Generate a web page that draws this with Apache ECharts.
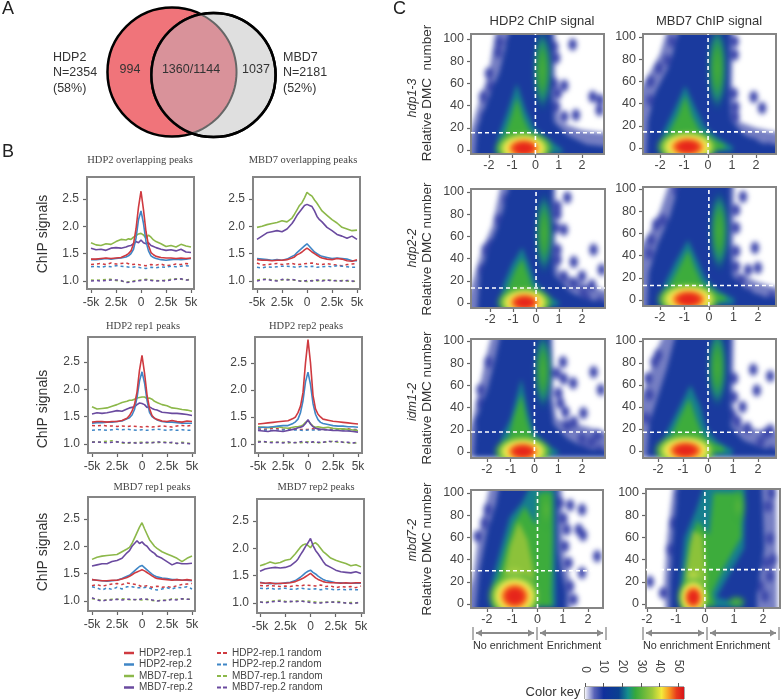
<!DOCTYPE html>
<html><head><meta charset="utf-8">
<style>html,body{margin:0;padding:0;background:#fff}
#wrap{position:absolute;left:0;top:0;width:781px;height:700px}
#h{position:absolute;left:0;top:0;width:781px;height:700px;filter:blur(2.6px)}
#c{position:absolute;left:0;top:0;width:781px;height:700px;filter:blur(.4px)}</style>
<script src="https://cdn.jsdelivr.net/npm/echarts@6/dist/echarts.min.js"></script>
</head><body><div id="wrap"><div id="h"></div></div><div id="c"></div>
<script>
// ---------- tick labels / names
const lineTickVals=[-5,-2.5,0,2.5,5];
const lineTickText=['-5k','2.5k','0','2.5k','5k'];
const lineYTicks=[1,1.5,2,2.5];
const heatXTicks=[-2,-1,0,1,2];
const heatYTicks=[0,20,40,60,80,100];
const keyTicks=[0,10,20,30,40,50];
const solidNames=['HDP2-rep.1','HDP2-rep.2','MBD7-rep.1','MBD7-rep.2'];
const dashNames=['HDP2-rep.1 random','HDP2-rep.2 random','MBD7-rep.1 random','MBD7-rep.2 random'];
const lineColors=['#cf3a40','#3f86c6','#8cb84a','#6a4a9f'];
// ---------- Venn
const vennNames=['HDP2','MBD7'];
const vennN=[2354,2181];
const vennPct=['(58%)','(52%)'];
const vennCounts=['994','1360/1144','1037'];
// ---------- x of profile samples (kb)
const xSolid=[-5,-4.5,-4,-3.5,-3,-2.5,-2,-1.5,-1.25,-1,-.75,-.5,-.25,0,.25,.5,.75,1,1.25,1.5,2,2.5,3,3.5,4,4.5,5];
const xDash=[-5,-4.5,-4,-3.5,-3,-2.5,-2,-1.5,-1,-.5,0,.5,1,1.5,2,2.5,3,3.5,4,4.5,5];
// ---------- profile values, hundredths of signal
const b1s1=[140,140,141,142,141,142,143,147,150,155,168,195,235,264,230,190,165,152,148,145,143,142,142,141,142,141,142];
const b1s2=[139,139,140,141,140,141,142,144,146,150,158,178,212,228,205,172,155,146,143,141,139,138,139,140,139,140,141];
const b1s3=[170,166,165,168,167,172,176,175,177,176,180,183,186,187,184,178,184,180,175,172,168,163,165,162,167,164,162];
const b1s4=[160,157,158,156,160,161,160,162,164,165,168,172,170,175,170,168,170,165,163,161,158,156,157,155,158,153,152];
const b1d1=[130,131,132,130,133,131,132,133,130,131,129,128,130,129,131,128,129,131,130,132,131];
const b1d2=[126,127,125,127,126,128,127,126,125,126,124,123,125,124,126,125,127,126,127,128,127];
const b1d3=[102,101,102,103,103,101,100,98,99,101,102,103,102,101,100,102,103,104,103,102,103];
const b1d4=[100,101,100,101,102,102,101,97,98,100,101,102,101,100,101,100,102,103,104,102,102];
const b2s1=[139,138,138,137,138,138,139,142,144,148,150,153,157,160,157,153,150,147,144,142,140,139,141,140,137,136,139];
const b2s2=[141,140,139,138,139,138,140,145,147,152,156,160,164,168,163,158,153,150,147,145,143,141,142,141,140,137,137];
const b2s3=[198,200,203,205,207,210,208,215,222,230,238,243,252,262,258,255,248,242,235,228,220,212,206,198,195,192,193];
const b2s4=[176,182,188,190,192,190,195,205,212,220,226,232,238,240,238,236,228,218,212,208,198,192,185,182,178,182,176];
const b2d1=[133,129,130,131,132,130,131,132,130,131,132,133,131,130,132,130,129,128,130,131,132];
const b2d2=[125,124,126,125,126,127,127,126,125,127,126,127,125,126,127,126,128,127,126,125,125];
const b2d3=[102,103,104,102,101,102,103,102,101,100,99,101,100,102,101,102,100,101,100,99,100];
const b2d4=[100,102,103,101,100,103,102,103,101,99,101,100,102,100,102,100,101,100,101,100,99];
const b3s1=[140,141,141,140,141,141,143,147,152,160,172,195,235,262,230,190,165,152,147,145,142,141,143,141,140,142,141];
const b3s2=[138,139,139,140,140,141,142,146,148,153,163,185,215,232,212,180,158,150,147,144,141,140,140,139,138,138,138];
const b3s3=[168,164,165,166,169,172,176,178,180,180,182,184,185,186,186,183,184,182,178,176,172,170,166,165,163,162,160];
const b3s4=[155,157,156,157,159,161,160,164,166,167,168,172,175,174,172,167,168,165,163,162,158,157,156,156,155,154,152];
const b3d1=[134,133,134,133,133,132,133,132,133,132,131,132,131,132,133,132,131,133,134,133,134];
const b3d2=[125,126,126,125,126,127,126,127,126,125,126,125,126,127,126,125,126,125,126,125,125];
const b3d3=[104,103,104,105,106,104,102,101,102,103,103,102,103,102,104,103,102,101,103,102,100];
const b3d4=[103,104,103,102,103,104,103,102,103,101,102,103,102,104,103,102,103,101,102,101,100];
const b4s1=[137,138,139,140,141,142,143,147,150,158,170,195,250,293,250,190,165,155,150,146,144,142,141,140,139,138,137];
const b4s2=[130,131,131,132,133,134,134,138,141,146,158,180,215,233,210,175,155,145,140,138,136,134,133,133,132,132,131];
const b4s3=[132,131,130,131,132,130,129,131,132,132,133,135,140,143,138,133,131,132,131,130,131,129,128,128,127,126,125];
const b4s4=[125,124,123,125,124,123,125,127,128,130,131,133,138,145,137,132,129,128,127,127,126,125,125,124,124,123,122];
const b4d1=[128,127,128,129,128,127,128,128,127,127,127,128,127,127,127,128,128,127,128,127,127];
const b4d2=[126,125,126,125,126,126,127,126,126,125,126,126,126,127,126,126,127,126,125,126,126];
const b4d3=[105,104,103,104,103,103,102,103,102,103,104,103,102,103,104,105,103,103,102,102,102];
const b4d4=[103,105,103,102,103,102,104,102,103,105,102,104,103,103,105,104,105,103,103,102,103];
const b5s1=[139,138,137,137,138,138,140,143,145,148,151,153,155,157,155,152,149,146,143,141,140,139,138,139,138,139,138];
const b5s2=[139,138,137,136,137,138,141,145,147,151,155,159,163,165,161,157,153,149,146,144,142,141,139,139,138,138,137];
const b5s3=[176,180,182,183,184,185,190,195,198,205,215,225,235,243,232,222,212,206,200,196,190,186,182,178,172,178,182];
const b5s4=[164,166,168,168,172,174,178,188,192,200,205,210,205,208,203,200,194,190,187,182,178,172,166,170,168,168,169];
const b5d1=[128,130,127,129,131,132,130,133,131,130,126,128,125,127,125,126,125,128,130,131,132];
const b5d2=[126,124,120,124,121,125,122,126,126,124,124,125,122,120,122,124,122,125,124,126,122];
const b5d3=[104,103,101,102,103,103,104,103,102,103,102,103,101,100,102,101,104,103,104,103,103];
const b5d4=[106,102,100,102,102,103,102,103,103,102,104,103,102,100,101,101,103,102,104,103,103];
const b6s1=[137,136,137,135,136,136,137,139,141,143,145,148,151,154,150,146,143,141,139,138,137,137,136,137,136,137,137];
const b6s2=[138,136,135,136,135,137,138,141,144,147,151,155,158,160,156,153,149,146,143,141,139,137,137,136,136,136,136];
const b6s3=[168,171,175,172,174,178,180,190,196,202,206,208,205,201,208,210,206,200,194,190,182,178,175,172,168,170,166];
const b6s4=[158,162,164,165,164,165,168,175,180,188,195,203,210,218,205,196,190,183,176,170,165,160,157,156,155,157,154];
const b6d1=[132,131,132,131,130,131,130,132,131,133,132,131,133,130,131,128,130,129,130,128,131];
const b6d2=[127,126,127,125,126,127,125,125,127,126,125,126,124,126,125,124,125,124,125,124,124];
const b6d3=[102,101,103,104,105,103,102,104,103,104,103,102,101,102,101,103,102,100,101,100,102];
const b6d4=[102,100,102,103,103,102,103,102,104,102,101,100,100,101,102,101,101,100,99,100,101];
// ---------- density panels: contours [signal, DMC], peaks [signal, DMC, spreadX, spreadY], sparse points [signal, DMC]
const h1Halo=[[-2.77,-4],[-2.75,20],[-2.4,45],[-2,70],[-1.65,104.5],[.85,104.5],[.85,50],[1.05,25],[2,18],[2.95,14],[2.95,-4]];
const h1Body=[[-2.65,-4],[-2.5,20],[-2.05,45],[-1.55,70],[-1,104.5],[.72,104.5],[.7,50],[.8,25],[1.4,13],[2.2,5],[2.95,2],[2.95,-4]];
const h1Teal=[[-1.75,-2],[-1.55,15],[-1.2,35],[-.8,60],[-.4,35],[-.05,20],[.55,10],[1.2,0],[1.1,-3],[-1.75,-3]];
const h1Green=[[-1.45,3],[-1.3,15],[-1.05,30],[-.8,47],[-.5,28],[-.2,15],[.25,6],[.65,1],[.3,-2],[-1.2,-2]];
const h1Peaks=[[.3,72,.46,40],[-.5,1.5,1.3,16]];
const h1Dots=[[.81,93],[.89,83],[1.6,95],[1.24,58],[1.24,30],[1.74,31.5],[2.46,48],[2.79,45],[2.76,36],[.89,39],[.96,51],[.81,60],[-1.54,97],[-1.11,97],[-1.6,88],[-2,69],[-2.25,48],[-2.2,30],[-1.9,57]];
const h2Halo=[[-2.71,-6],[-2.71,40],[-2.5,65],[-2,85],[-1.6,102.7],[1.05,102.7],[1,50],[1.1,25],[2,18],[2.83,12],[2.83,-6]];
const h2Body=[[-2.6,-6],[-2.5,25],[-2.2,50],[-1.6,75],[-1.1,102.7],[.92,102.7],[.88,50],[.95,25],[1.5,12],[2.3,4],[2.83,2],[2.83,-6]];
const h2Teal=[[-2.05,-3],[-1.85,15],[-1.4,35],[-.95,56],[-.5,35],[-.15,20],[.35,10],[1.05,1],[1,-3]];
const h2Green=[[-1.8,0],[-1.6,15],[-1.25,30],[-.95,47],[-.65,28],[-.3,14],[.15,8],[.7,3],[.7,-1],[-1.5,-3]];
const h2Peaks=[[.38,72,.46,42],[-.85,1,1.35,16]];
const h2Dots=[[1.11,96],[1.11,84],[1.14,37],[1.14,28],[1.9,46],[2.25,36],[2.53,0],[1.9,4],[1.35,7],[1.07,49],[-2.4,60],[-2.05,72],[-1.7,79],[-1.5,96],[-2.4,43]];
const h3Halo=[[-2.83,-5],[-2.75,20],[-2.4,45],[-1.9,70],[-1.45,102.7],[.85,102.7],[.85,50],[1,28],[2,18],[3,8],[3,-5]];
const h3Body=[[-2.6,-5],[-2.45,25],[-2.05,50],[-1.55,75],[-1.05,102.7],[.72,102.7],[.7,50],[.8,25],[1.5,10],[2.2,3],[3,0],[3,-5]];
const h3Teal=[[-1.65,-3],[-1.4,18],[-1.05,35],[-.6,50],[-.3,35],[-.05,20],[.45,8],[1.05,0],[.9,-3]];
const h3Green=[[-1.35,2],[-1.2,15],[-.9,30],[-.6,40],[-.35,26],[-.15,14],[.25,5],[.65,1],[.3,-2],[-1.2,-2]];
const h3Peaks=[[.35,63,.44,40],[-.5,.5,1.25,15]];
const h3Dots=[[1.36,95],[.93,87],[.93,80],[1.21,66],[.86,68],[1.64,37],[2.5,48],[2.86,30],[2,24],[1.21,24],[1.64,18],[2.43,16],[.93,48],[.93,39],[2.79,1],[2.2,4],[2.05,10],[-2.2,48],[-2,52],[-2.36,30],[-1.29,93],[-1.64,75]];
const h4Halo=[[-2.69,-6],[-2.69,35],[-2.45,60],[-2,80],[-1.5,101.8],[1.05,101.8],[1,50],[1.1,25],[2,16],[2.74,8],[2.74,-6]];
const h4Body=[[-2.55,-6],[-2.45,25],[-2.1,50],[-1.6,75],[-1.1,101.8],[.88,101.8],[.86,50],[.95,22],[1.5,10],[2.2,3],[2.74,1],[2.74,-6]];
const h4Teal=[[-2.05,-4],[-1.8,15],[-1.35,35],[-.85,54],[-.45,35],[-.15,20],[.35,9],[1.05,1],[1,-4]];
const h4Green=[[-1.75,-1],[-1.55,15],[-1.2,30],[-.85,45],[-.55,28],[-.25,14],[.15,8],[.7,3],[.7,-1],[-1.5,-3]];
const h4Peaks=[[.42,62,.44,40],[-.83,.6,1.35,16]];
const h4Dots=[[1.39,93],[1.11,81],[1.11,65],[1.11,44],[1.88,47],[1.6,27],[2,29],[1.11,30],[1.32,18],[2.57,3],[2.08,0],[1.6,6],[-2.15,68],[-2.43,42],[-1.88,72],[-2.36,54],[-1.32,99]];
const h5Halo=[[-2.67,-5],[-2.6,30],[-2.3,60],[-2.05,85],[-1.7,101.8],[.75,101.8],[.8,50],[.95,30],[1.8,25],[2.97,15],[2.97,-5]];
const h5Body=[[-2.55,-5],[-2.45,30],[-2,55],[-1.7,80],[-1.35,101.8],[.68,101.8],[.65,50],[.8,25],[1.4,12],[2.2,3],[2.97,0],[2.97,-5]];
const h5Teal=[[-1.55,-3],[-1.35,15],[-1,30],[-.55,66],[-.25,35],[0,18],[.45,8],[1.05,0],[.9,-3]];
const h5Green=[[-1.25,2],[-1.05,15],[-.9,30],[-.55,52],[-.3,28],[-.1,14],[.25,5],[.65,1],[.3,-2],[-1.2,-2]];
const h5Peaks=[[.36,73,.42,38],[-.49,.5,1.25,15]];
const h5Dots=[[1.2,81],[1.23,66],[1.63,62],[1.01,53],[.94,71],[2.49,72],[2.8,56],[1.3,36],[2.06,35],[1.66,27],[2.66,15],[2,12],[1.37,24],[1.09,44],[2.73,1.5],[2.1,2],[2.4,9],[-1.94,81],[-2.27,56],[-2.27,44],[-2.34,27]];
const h6Halo=[[-2.6,-6],[-2.6,30],[-2.4,65],[-2.1,90],[-1.6,101.8],[1.05,101.8],[1,50],[1.1,25],[1.9,20],[2.72,15],[2.72,-6]];
const h6Body=[[-2.45,-6],[-2.35,25],[-2,50],[-1.65,75],[-1.2,101.8],[.9,101.8],[.88,50],[.92,22],[1.4,10],[2.1,3],[2.72,0],[2.72,-6]];
const h6Teal=[[-2,-4],[-1.7,15],[-1.25,35],[-.7,60],[-.3,40],[-.1,22],[.35,9],[1,1],[.95,-4]];
const h6Green=[[-1.65,-1],[-1.45,15],[-1.15,30],[-.75,48],[-.45,28],[-.2,14],[.15,8],[.65,3],[.65,-1],[-1.4,-3]];
const h6Peaks=[[.37,76,.44,40],[-.9,.5,1.3,16]];
const h6Dots=[[1.04,66],[1.81,74],[1.95,55],[2.49,68],[1.04,49],[1.38,40],[.97,33],[1.58,21],[2.32,16],[2.53,0],[1.78,2],[1.18,27],[2.5,19],[2.1,8],[-2.14,81],[-2.4,66],[-2,87],[-2.34,51],[-2.47,30]];
const h7Halo=[[-2.63,-4],[-2.55,25],[-2.35,60],[-2.05,90],[-1.8,102.7],[.95,102.7],[1,50],[1.3,20],[1.3,-4]];
const h7Body=[[-2.5,-4],[-2.3,30],[-2,65],[-1.65,90],[-1.45,102.7],[.78,102.7],[.82,50],[.95,30],[1.15,8],[1.1,-4]];
const h7Teal=[[-1.85,-3],[-1.8,20],[-1.45,50],[-1.1,78],[-.6,92],[-.1,102.7],[.68,102.7],[.72,40],[.72,-3]];
const h7Green=[[-1.65,-2],[-1.6,20],[-1.25,50],[-.95,72],[-.5,88],[-.05,70],[.02,100],[.58,100],[.6,60],[.55,10],[.58,-2]];
const h7Lime=[[-1.45,3],[-1.35,25],[-1.1,52],[-.75,74],[-.4,58],[-.15,30],[-.1,10],[-.15,-1]];
const h7Peaks=[[.35,85,.3,22],[-.9,18,.6,19],[-.9,7,1.1,22]];
const h7Dots=[[1.03,77],[1.29,89],[1.76,85],[1.63,67],[1.16,67],[1.8,62],[2.36,43],[1.76,28],[1.23,37],[1.29,16],[1.43,4],[1.09,52],[.89,91],[-2.37,61],[-1.97,85],[-2.1,73]];
const h8Halo=[[-1.35,-4],[-1.4,20],[-1.3,60],[-1.05,103.6],[2.45,103.6],[2.5,-4]];
const h8Body=[[-1.2,-4],[-1.2,20],[-1.1,60],[-.9,103.6],[1.95,103.6],[2.05,50],[1.8,10],[1.8,-4]];
const h8Teal=[[-.85,-3],[-.85,20],[-.7,60],[-.3,85],[.1,103.6],[1.4,103.6],[1.35,50],[.8,25],[.4,6],[1.3,0],[1.3,-3]];
const h8Green=[[-.75,-2],[-.72,20],[-.55,55],[-.25,75],[.15,62],[.3,100],[1.28,100],[1.25,60],[.7,35],[.25,10],[.35,-2]];
const h8Lime=[[-.75,0],[-.65,30],[-.42,66],[-.08,62],[.05,25],[.05,-1]];
const h8Peaks=[[1.15,88,.3,18],[1.09,2,.35,6],[-.4,17,.33,18],[-.4,6,.58,19]];
const h8Dots=[[-1.9,20],[-1.44,10],[-1.2,49],[-1.09,73],[-.86,98],[2.18,88],[2.24,59],[2.36,40],[2.13,37],[2.24,25],[1.9,16],[2.07,7],[1.72,22],[2.3,100]];
// cut-off level of the horizontal dashed line, per panel
const cutLevels=[15.5,14.5,13.5,13,18,17,30,31];
// colour key
const keyStops=[[0,'#f4f4fb'],[5,'#5a64b8'],[10,'#10309c'],[18,'#0b3f90'],[23,'#14908c'],[27,'#35a83c'],[36,'#9cc83a'],[41,'#f4ea3c'],[45,'#f79a22'],[49,'#e83a1c'],[53,'#d8141a']];

// ---------- geometry of the panels (frame px + axis range)
const lineFrames=[
 {l:87,t:177,w:107,h:112,x:[-5.4,5.3],y:[.854,2.9],s:[b1s1,b1s2,b1s3,b1s4],d:[b1d1,b1d2,b1d3,b1d4]},
 {l:253,t:177,w:107,h:112,x:[-5.4,5.3],y:[.854,2.9],s:[b2s1,b2s2,b2s3,b2s4],d:[b2d1,b2d2,b2d3,b2d4]},
 {l:88,t:337,w:107,h:116,x:[-5.4,5.3],y:[.835,2.957],s:[b3s1,b3s2,b3s3,b3s4],d:[b3d1,b3d2,b3d3,b3d4]},
 {l:255,t:337,w:107,h:116,x:[-5.3,5.4],y:[.833,2.98],s:[b4s1,b4s2,b4s3,b4s4],d:[b4d1,b4d2,b4d3,b4d4]},
 {l:88,t:497,w:107,h:114,x:[-5.4,5.3],y:[.817,2.9],s:[b5s1,b5s2,b5s3,b5s4],d:[b5d1,b5d2,b5d3,b5d4]},
 {l:257,t:499,w:107,h:114,x:[-5.3,5.3],y:[.817,2.9],s:[b6s1,b6s2,b6s3,b6s4],d:[b6d1,b6d2,b6d3,b6d4]}
];
const heatFrames=[
 {l:471,t:34,w:133,h:120,x:[-2.77,2.95],y:[-3.6,104.5],halo:h1Halo,body:h1Body,teal:h1Teal,green:h1Green,peaks:h1Peaks,dots:h1Dots},
 {l:643,t:34,w:133,h:120,x:[-2.71,2.83],y:[-5.4,102.7],halo:h2Halo,body:h2Body,teal:h2Teal,green:h2Green,peaks:h2Peaks,dots:h2Dots},
 {l:471,t:189,w:134,h:119,x:[-2.83,3],y:[-4.5,102.7],halo:h3Halo,body:h3Body,teal:h3Teal,green:h3Green,peaks:h3Peaks,dots:h3Dots},
 {l:643,t:187,w:133,h:119,x:[-2.69,2.74],y:[-5.4,101.8],halo:h4Halo,body:h4Body,teal:h4Teal,green:h4Green,peaks:h4Peaks,dots:h4Dots},
 {l:471,t:339,w:134,h:119,x:[-2.67,2.97],y:[-5.4,101.8],halo:h5Halo,body:h5Body,teal:h5Teal,green:h5Green,peaks:h5Peaks,dots:h5Dots},
 {l:643,t:339,w:133,h:119,x:[-2.6,2.72],y:[-6.4,101.8],halo:h6Halo,body:h6Body,teal:h6Teal,green:h6Green,peaks:h6Peaks,dots:h6Dots},
 {l:471,t:490,w:132,h:118,x:[-2.63,2.59],y:[-3.6,102.7],halo:h7Halo,body:h7Body,teal:h7Teal,green:h7Green,lime:h7Lime,peaks:h7Peaks,dots:h7Dots},
 {l:646,t:489,w:134,h:119,x:[-2.03,2.59],y:[-3.6,103.6],halo:h8Halo,body:h8Body,teal:h8Teal,green:h8Green,lime:h8Lime,peaks:h8Peaks,dots:h8Dots}
];
const FONT='"Liberation Sans",Arial,sans-serif';
const grids=[],xAxes=[],yAxes=[],series=[];
const hGrids=[],hX=[],hY=[],hSeries=[];
const radial=stops=>({type:'radial',x:.5,y:.5,r:.5,colorStops:stops.map(s=>({offset:s[0],color:s[1]}))});
const hotFill=radial([[0,'#e3201c'],[.3,'#ea2c1a'],[.44,'#f68a20'],[.55,'#fff25a'],[.66,'#d2e048'],[.82,'#5cb83c'],[1,'rgba(40,160,70,0)']]);
const streakFill=radial([[0,'#48ae38'],[.38,'#36a242'],[.62,'#1f8a78'],[.85,'rgba(20,70,150,.8)'],[1,'rgba(20,60,155,0)']]);
const softGreen=radial([[0,'#5db83a'],[.6,'rgba(60,170,60,.7)'],[1,'rgba(50,165,60,0)']]);
const softYellow=radial([[0,'#fff25a'],[.5,'#c8dc46'],[1,'rgba(120,190,60,0)']]);
const dotFill=radial([[0,'rgba(35,45,160,1)'],[.6,'rgba(55,65,170,.85)'],[1,'rgba(80,90,185,0)']]);
const baseAxis={axisLine:{show:false,onZero:false},splitLine:{show:false}};
function addGrid(f){
 grids.push({left:f.l,top:f.t,width:f.w,height:f.h,show:true,borderColor:'#858585',borderWidth:2,backgroundColor:'transparent',z:1});
 return grids.length-1;
}
function poly(gi,pts,color,f){
 const pad=q=>[q[0]<=f.x[0]+.01?q[0]-.5:q[0]>=f.x[1]-.01?q[0]+.5:q[0], q[1]<=f.y[0]+.01?q[1]-12:q[1]>=f.y[1]-.01?q[1]+12:q[1]];
 hSeries.push({type:'custom',coordinateSystem:'cartesian2d',xAxisIndex:gi,yAxisIndex:gi,clip:false,silent:true,data:pts,encode:{x:0,y:1},
  renderItem(p,api){
   if(p.dataIndex!==0)return null;
   return {type:'polygon',shape:{points:pts.map(q=>api.coord(pad(q)))},style:{fill:color}};
  }});
}
function blobs(gi,rows,fillOf){
 hSeries.push({type:'custom',coordinateSystem:'cartesian2d',xAxisIndex:gi,yAxisIndex:gi,clip:false,silent:true,data:rows,encode:{x:0,y:1},
  renderItem(p,api){
   const c=api.coord([api.value(0),api.value(1)]);
   const s=api.size([api.value(2),api.value(3)]);
   return {type:'circle',shape:{cx:0,cy:0,r:1},x:c[0],y:c[1],scaleX:s[0],scaleY:s[1],style:{fill:fillOf(p.dataIndex,rows.length)}};
  }});
}
// line panels
lineFrames.forEach(f=>{
 const gi=addGrid(f);
 xAxes.push(Object.assign({},baseAxis,{gridIndex:gi,type:'value',min:f.x[0],max:f.x[1],
  axisTick:{length:4,lineStyle:{color:'#666',width:1.2},customValues:lineTickVals},
  axisLabel:{customValues:lineTickVals,margin:8,color:'#444',fontSize:12,fontFamily:FONT,formatter:v=>lineTickText[lineTickVals.indexOf(v)]}}));
 yAxes.push(Object.assign({},baseAxis,{gridIndex:gi,type:'value',min:f.y[0],max:f.y[1],
  axisTick:{length:4,lineStyle:{color:'#666',width:1.2},customValues:lineYTicks},
  axisLabel:{customValues:lineYTicks,margin:8,color:'#444',fontSize:12,fontFamily:FONT,formatter:v=>v.toFixed(1)}}));
 [2,3,0,1].forEach(k=>{series.push({type:'line',name:dashNames[k],xAxisIndex:gi,yAxisIndex:gi,showSymbol:false,symbol:'none',silent:true,
  lineStyle:{color:lineColors[k],width:1.5,type:[3,3]},itemStyle:{color:lineColors[k]},data:f.d[k].map((v,i)=>[xDash[i],v/100])});});
 [2,3,1,0].forEach(k=>{series.push({type:'line',name:solidNames[k],xAxisIndex:gi,yAxisIndex:gi,showSymbol:false,symbol:'none',silent:true,
  lineStyle:{color:lineColors[k],width:1.6},itemStyle:{color:lineColors[k]},data:f.s[k].map((v,i)=>[xSolid[i],v/100])});});
});
// density panels: colour fields on a softened layer, axes and cut lines on the top layer
heatFrames.forEach((f,n)=>{
 const gi=addGrid(f);
 xAxes.push(Object.assign({},baseAxis,{gridIndex:gi,type:'value',min:f.x[0],max:f.x[1],
  axisTick:{length:4,lineStyle:{color:'#666',width:1.2},customValues:heatXTicks},
  axisLabel:{customValues:heatXTicks,margin:5,color:'#444',fontSize:12.5,fontFamily:FONT}}));
 yAxes.push(Object.assign({},baseAxis,{gridIndex:gi,type:'value',min:f.y[0],max:f.y[1],
  axisTick:{length:4,lineStyle:{color:'#666',width:1.2},customValues:heatYTicks},
  axisLabel:{customValues:heatYTicks,margin:7,color:'#444',fontSize:12.5,fontFamily:FONT}}));
 hGrids.push({left:f.l,top:f.t,width:f.w,height:f.h,show:false});
 hX.push({gridIndex:n,type:'value',min:f.x[0],max:f.x[1],show:false});
 hY.push({gridIndex:n,type:'value',min:f.y[0],max:f.y[1],show:false});
 const spread=f.w/(f.x[1]-f.x[0]);
 blobs(n,f.dots.map(d=>[d[0],d[1],5.5/spread,7]),()=>dotFill);
 poly(n,f.halo,'rgba(60,72,170,.7)',f);
 poly(n,f.body,'#1a3a9e',f);
 poly(n,f.teal,'#167f8e',f);
 poly(n,f.green,'#3dac3c',f);
 if(f.lime)poly(n,f.lime,'#8cc23a',f);
 blobs(n,f.peaks,(i,len)=>{
  if(i===len-1)return hotFill;
  if(f.lime&&i===len-2)return softYellow;
  return f.lime?softGreen:streakFill;
 });
 const cut=[[f.x[0],cutLevels[n]],[f.x[1],cutLevels[n]]];
 const vert=[[0,f.y[0]],[0,f.y[1]]];
 [cut,vert].forEach(d=>series.push({type:'line',xAxisIndex:gi,yAxisIndex:gi,symbol:'none',silent:true,z:5,lineStyle:{color:'#fff',width:1.6,type:[4,3]},data:d}));
});
document.getElementById('wrap').style.clipPath="path('"+heatFrames.map(f=>`M${f.l} ${f.t}h${f.w}v${f.h}h${-f.w}z`).join('')+"')";
// Venn
const venn={l:100,t:0,w:190,h:145};
const vennGi=grids.length;
grids.push({left:venn.l,top:venn.t,width:venn.w,height:venn.h,show:false});
xAxes.push({gridIndex:vennGi,type:'value',min:0,max:venn.w,show:false});
yAxes.push({gridIndex:vennGi,type:'value',min:0,max:venn.h,inverse:true,show:false});
const vennCentres=[[72,72],[113.5,75]];
const vennR=vennN.map(n=>Math.sqrt(n)*1.33);
function lensPoints(){
 const [a,b]=vennCentres,[ra,rb]=vennR,dx=b[0]-a[0],dy=b[1]-a[1],d=Math.hypot(dx,dy),base=Math.atan2(dy,dx);
 const ha=Math.acos((d*d+ra*ra-rb*rb)/(2*d*ra)),hb=Math.acos((d*d+rb*rb-ra*ra)/(2*d*rb));
 const pts=[];
 for(let i=0;i<=40;i++){const t=base-ha+2*ha*i/40;pts.push([a[0]+ra*Math.cos(t),a[1]+ra*Math.sin(t)]);}
 for(let i=0;i<=40;i++){const t=base+Math.PI-hb+2*hb*i/40;pts.push([b[0]+rb*Math.cos(t),b[1]+rb*Math.sin(t)]);}
 return pts;
}
series.push({type:'custom',coordinateSystem:'cartesian2d',xAxisIndex:vennGi,yAxisIndex:vennGi,silent:true,clip:false,
 data:[[vennCentres[0][0],vennCentres[0][1],vennR[0],vennCentres[1][0],vennCentres[1][1],vennR[1]]],encode:{x:0,y:1},
 renderItem(p,api){
  const c0=api.coord(vennCentres[0]),c1=api.coord(vennCentres[1]);
  return {type:'group',children:[
   {type:'circle',shape:{cx:c0[0],cy:c0[1],r:vennR[0]},style:{fill:'#f0747a',stroke:'#000',lineWidth:2.5}},
   {type:'circle',shape:{cx:c1[0],cy:c1[1],r:vennR[1]},style:{fill:'#dfdfdf',stroke:'#000',lineWidth:2.5}},
   {type:'polygon',shape:{points:lensPoints().map(q=>api.coord(q))},style:{fill:'#d9929a',stroke:'#666',lineWidth:2}},
   {type:'circle',shape:{cx:c1[0],cy:c1[1],r:vennR[1]},style:{fill:'none',stroke:'#000',lineWidth:2.5}}
  ]};
 }});
// colour key
const keyGi=grids.length;
grids.push({left:585,top:687,width:99,height:12,show:true,borderColor:'#555',borderWidth:1});
const keyMax=keyStops[keyStops.length-1][0];
xAxes.push({gridIndex:keyGi,type:'value',position:'top',min:0,max:keyMax,axisLine:{show:false,onZero:false},splitLine:{show:false},
 axisTick:{length:4,lineStyle:{color:'#555'},customValues:keyTicks},
 axisLabel:{customValues:keyTicks,rotate:90,margin:14,color:'#444',fontSize:12,fontFamily:FONT}});
yAxes.push({gridIndex:keyGi,type:'value',min:0,max:1,show:false});
series.push({type:'custom',coordinateSystem:'cartesian2d',xAxisIndex:keyGi,yAxisIndex:keyGi,silent:true,
 data:[[0,0,keyMax,1]],encode:{x:[0,2],y:[1,3]},
 renderItem(p,api){
  const a=api.coord([0,1]),b=api.coord([keyMax,0]);
  return {type:'rect',shape:{x:a[0],y:a[1],width:b[0]-a[0],height:b[1]-a[1]},
   style:{fill:{type:'linear',x:0,y:0,x2:1,y2:0,colorStops:keyStops.map(s=>({offset:s[0]/keyMax,color:s[1]}))}}};
 }});
// ---------- text and annotation
const T=(text,x,y,o)=>Object.assign({type:'text',x,y,silent:true,z:20,rotation:(o&&o.rot)||0,
 style:{text,font:((o&&o.style)||'')+' '+((o&&o.size)||12)+'px '+((o&&o.fam)||FONT),fill:(o&&o.color)||'#333',align:(o&&o.align)||'center',verticalAlign:'middle'}});
const R=Math.PI/2;
const texts=[
 T('A',2,9,{size:18,align:'left',color:'#222'}),T('B',2,152,{size:18,align:'left',color:'#222'}),T('C',393,9,{size:18,align:'left',color:'#222'}),
 T(vennNames[0],53,58,{size:12.5,align:'left'}),T('N='+vennN[0],53,73,{size:12.5,align:'left'}),T(vennPct[0],53,89,{size:12.5,align:'left'}),
 T(vennNames[1],283,58,{size:12.5,align:'left'}),T('N='+vennN[1],283,73,{size:12.5,align:'left'}),T(vennPct[1],283,89,{size:12.5,align:'left'}),
 T(vennCounts[0],130,70,{size:12.5}),T(vennCounts[1],191,70,{size:12.5}),T(vennCounts[2],256,70,{size:12.5}),
 T('ChIP signals',43,234,{size:14,rot:R}),T('ChIP signals',43,409,{size:14,rot:R}),T('ChIP signals',43,552,{size:14,rot:R}),
 T('HDP2 ChIP signal',542,21,{size:13}),T('MBD7 ChIP signal',709,21,{size:13}),
 T('Relative DMC  number',427,93,{size:13.5,rot:R}),T('Relative DMC number',427,249,{size:13.5,rot:R}),
 T('Relative DMC number',427,398,{size:13.5,rot:R}),T('Relative DMC number',427,549,{size:13.5,rot:R}),
 T('hdp1-3',413,98,{size:12.5,rot:R,style:'italic'}),T('hdp2-2',413,248,{size:12.5,rot:R,style:'italic'}),
 T('idm1-2',413,402,{size:12.5,rot:R,style:'italic'}),T('mbd7-2',413,540,{size:12.5,rot:R,style:'italic'}),
 T('No enrichment',508,646,{size:10.8}),T('Enrichment',574,646,{size:10.8}),T('No enrichment',678,646,{size:10.8}),T('Enrichment',743,646,{size:10.8}),
 T('Color key',553,692,{size:13})
];
const SERIF='"Liberation Serif",serif';
[['HDP2 overlapping peaks',140,160],['MBD7 overlapping peaks',303,160],['HDP2 rep1 peaks',143,326],['HDP2 rep2 peaks',306,326],['MBD7 rep1 peaks',152,487],['MBD7 rep2 peaks',316,487]]
 .forEach(t=>texts.push(T(t[0],t[1],t[2],{size:10.5,fam:SERIF,color:'#444'})));
const ARROW='#8a8a8a';
function arrows(a,m,b,y){
 const out=[];
 [a,m,b].forEach(x=>out.push({type:'line',shape:{x1:x,y1:y-6,x2:x,y2:y+7},style:{stroke:ARROW,lineWidth:1.3},silent:true}));
 [[a+3,m-3],[m+3,b-3]].forEach(s=>{
  out.push({type:'line',shape:{x1:s[0],y1:y,x2:s[1],y2:y},style:{stroke:ARROW,lineWidth:1.8},silent:true});
  out.push({type:'polygon',shape:{points:[[s[0],y],[s[0]+6,y-3.5],[s[0]+6,y+3.5]]},style:{fill:ARROW},silent:true});
  out.push({type:'polygon',shape:{points:[[s[1],y],[s[1]-6,y-3.5],[s[1]-6,y+3.5]]},style:{fill:ARROW},silent:true});
 });
 return out;
}
const legendBase={orient:'vertical',top:647.5,itemWidth:10,itemHeight:2.5,itemGap:.5,selectedMode:false,padding:0,textStyle:{fontSize:10,lineHeight:11,color:'#444',fontFamily:FONT}};
const dashIcon='path://M0,0H4V2H0z M6,0H10V2H6z';
const heatLayer=echarts.init(document.getElementById('h'),null,{renderer:'canvas'});
heatLayer.setOption({animation:false,grid:hGrids,xAxis:hX,yAxis:hY,series:hSeries});
const chart=echarts.init(document.getElementById('c'),null,{renderer:'canvas'});
chart.setOption({animation:false,backgroundColor:'transparent',
 grid:grids,xAxis:xAxes,yAxis:yAxes,series,
 legend:[Object.assign({},legendBase,{left:124,data:solidNames.map(name=>({name,icon:'rect'}))}),Object.assign({},legendBase,{left:217,data:dashNames.map(name=>({name,icon:dashIcon}))})],
 graphic:{elements:texts.concat(arrows(473,537,606,633),arrows(643,707,779,633))}
});
</script></body></html>
